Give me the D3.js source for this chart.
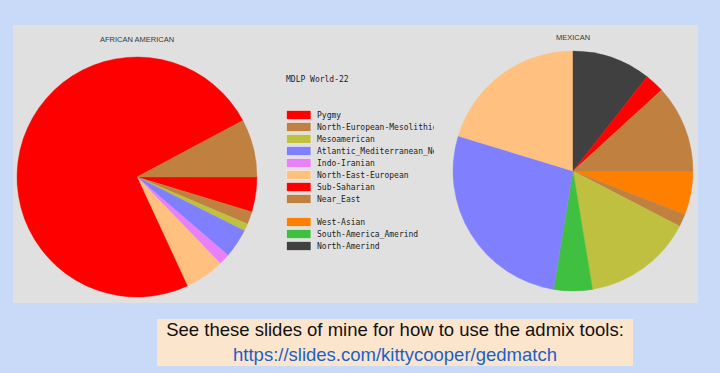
<!DOCTYPE html>
<html>
<head>
<meta charset="utf-8">
<script src="https://cdn.jsdelivr.net/npm/d3@7"></script>
<style>
  html, body { margin: 0; padding: 0; background: #c9daf8; }
  svg { display: block; }
</style>
</head>
<body>
<svg id="chart"></svg>
<script>
const width = 720;
const height = 373;

// legend of the admixture components (MDLP World-22)
const components = ['Pygmy', 'North-European-Mesolithic', 'Mesoamerican', 'Atlantic_Mediterranean_Neolithic',
  'Indo-Iranian', 'North-East-European', 'Sub-Saharian', 'Near_East',
  'West-Asian', 'South-America_Amerind', 'North-Amerind'];
const compColors = ['#ff0000', '#c08040', '#c0c040', '#8080ff',
  '#e880f8', '#ffc080', '#ff0000', '#c08040',
  '#ff8000', '#40c040', '#404040'];

// slices clockwise from 3 o'clock, percent
const africanLabels = ['Pygmy', 'North-European-Mesolithic', 'Mesoamerican', 'Atlantic_Mediterranean_Neolithic',
  'Indo-Iranian', 'North-East-European', 'Sub-Saharian', 'Near_East'];
const africanValues = [4.7, 1.7, 1.0, 3.9, 1.5, 5.3, 74.1, 7.8];

const mexicanLabels = ['West-Asian', 'Near_East', 'Mesoamerican', 'South-America_Amerind',
  'Atlantic_Mediterranean_Neolithic', 'North-East-European', 'North-Amerind', 'Sub-Saharian', 'North-European-Mesolithic'];
const mexicanValues = [5.9, 1.7, 14.8, 5.2, 27.1, 20.3, 10.6, 2.6, 11.8];

const color = d3.scaleOrdinal().domain(components).range(compColors);

const svg = d3.select('#chart')
  .attr('width', width)
  .attr('height', height)
  .attr('viewBox', [0, 0, width, height]);

// grey panel
svg.append('rect')
  .attr('x', 13).attr('y', 25)
  .attr('width', 685).attr('height', 278)
  .style('fill', '#e0e0e0');

const radius = 120;
const pie = d3.pie().sort(null).value((d) => d.value)
  .startAngle(Math.PI / 2).endAngle(Math.PI / 2 + 2 * Math.PI);
const arc = d3.arc().innerRadius(0).outerRadius(radius);

function drawPie(cx, cy, title, titleY, labels, values) {
  const data = labels.map((l, i) => ({ label: l, value: values[i] }));
  const g = svg.append('g').attr('transform', `translate(${cx},${cy})`);
  g.selectAll('path')
    .data(pie(data))
    .join('path')
    .attr('d', arc)
    .style('fill', (d) => color(d.data.label))
    .style('stroke', (d) => color(d.data.label))
    .style('stroke-width', 0.4);
  svg.append('text')
    .attr('x', cx).attr('y', titleY)
    .attr('text-anchor', 'middle')
    .style('font-family', 'Liberation Sans, Arial, sans-serif')
    .style('font-size', '7.5px')
    .style('fill', '#383838')
    .text(title);
}

drawPie(137, 177, 'AFRICAN AMERICAN', 42, africanLabels, africanValues);
drawPie(573, 171, 'MEXICAN', 40, mexicanLabels, mexicanValues);

/** LEGEND **/
svg.append('clipPath').attr('id', 'legclip')
  .append('rect').attr('x', 280).attr('y', 60).attr('width', 154).attr('height', 200);

const leg = svg.append('g').attr('clip-path', 'url(#legclip)')
  .style('font-family', 'DejaVu Sans Mono, monospace')
  .style('font-size', '8px')
  .style('fill', '#202020');

leg.append('text').attr('x', 286).attr('y', 82).text('MDLP World-22');

const rowY = (i) => 115 + i * 12 + (i >= 8 ? 11 : 0);

leg.selectAll('rect.sw')
  .data(components)
  .join('rect')
  .attr('class', 'sw')
  .attr('x', 286.5)
  .attr('y', (d, i) => rowY(i) - 4.5)
  .attr('width', 24.5)
  .attr('height', 9)
  .style('fill', (d, i) => compColors[i])
  .style('stroke', '#f0f0f0')
  .style('stroke-width', 0.6);

leg.selectAll('text.lab')
  .data(components)
  .join('text')
  .attr('class', 'lab')
  .attr('x', 317)
  .attr('y', (d, i) => rowY(i) + 3)
  .text((d) => d);

/** NOTE BOX **/
svg.append('rect')
  .attr('x', 157).attr('y', 319)
  .attr('width', 476).attr('height', 47)
  .style('fill', '#fce5cd');

svg.append('text')
  .attr('x', 395).attr('y', 336)
  .attr('text-anchor', 'middle')
  .style('font-family', 'Liberation Sans, Arial, sans-serif')
  .style('font-size', '18.5px')
  .style('fill', '#111')
  .text('See these slides of mine for how to use the admix tools:');

svg.append('text')
  .attr('x', 395).attr('y', 361)
  .attr('text-anchor', 'middle')
  .style('font-family', 'Liberation Sans, Arial, sans-serif')
  .style('font-size', '18.5px')
  .style('fill', '#1a62c8')
  .text('https://slides.com/kittycooper/gedmatch');
</script>
</body>
</html>
